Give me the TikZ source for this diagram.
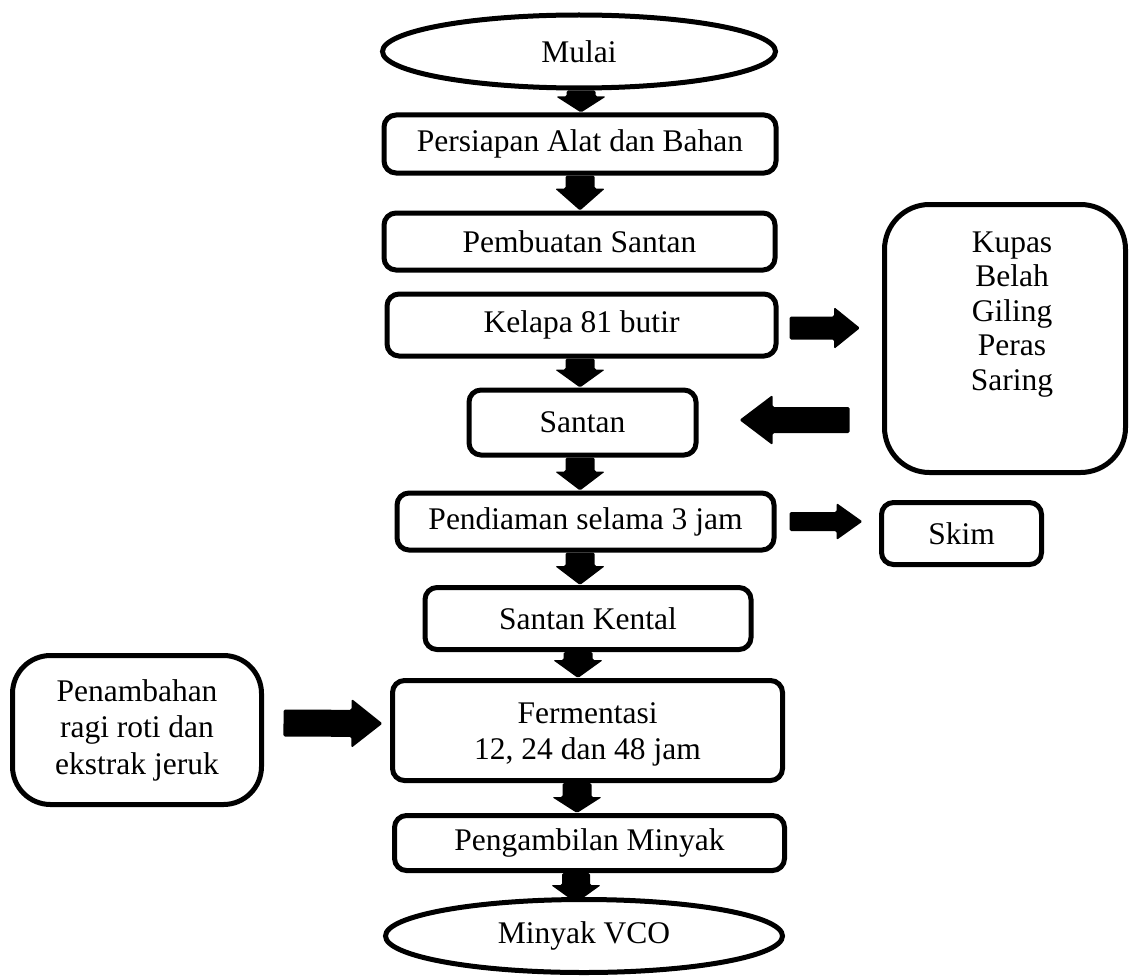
\documentclass[tikz,border=0pt]{standalone}
\usepackage{fontspec}
\setmainfont{Liberation Serif}
\usetikzlibrary{calc,shapes.geometric,backgrounds}
\tikzset{
  box/.style={draw, line width=5pt, rounded corners=12pt, fill=white, inner sep=0pt, align=center, font=\fontsize{31.5}{36.5}\selectfont},
  oval/.style={draw, ellipse, line width=5pt, fill=white, inner sep=0pt, font=\fontsize{31.5}{36.5}\selectfont},
  plain/.style={inner sep=0pt, align=center},
  blk/.style={fill=black, rounded corners=1.5pt},
}
\newcommand{\barrow}[5]{%
  \coordinate (ba-h) at ($(#2)!#5!(#1)$);
  \fill[blk] ($(#1)!#3!90:(#2)$) -- ($(ba-h)!#3!90:(#2)$) -- ($(ba-h)!#4!90:(#2)$) -- (#2) -- ($(ba-h)!#4!-90:(#2)$) -- ($(ba-h)!#3!-90:(#2)$) -- ($(#1)!#3!-90:(#2)$) -- cycle;}
\newcommand{\dnarrow}[4]{%
  \coordinate (da-s) at (#1.south -| #3,0);
  \coordinate (da-e) at (#2.north -| #3,0);
  \barrow{da-s}{da-e}{14.5pt}{25pt}{#4}}
\begin{document}
\begin{tikzpicture}[x=1pt,y=-1pt]
\useasboundingbox (0,0) rectangle (1129,979);
% main column
\node[oval, minimum width=393pt, minimum height=73pt] (start) at (579,51.5) {Mulai};
\node[box, minimum width=392pt, minimum height=58pt] (prep) at (580,144) {Persiapan Alat dan Bahan};
\node[box, minimum width=391pt, minimum height=57pt] (pemb) at (579.5,241.5) {Pembuatan Santan};
\node[box, minimum width=389pt, minimum height=62pt] (kelapa) at (581.5,325) {Kelapa 81 butir};
\node[box, minimum width=227pt, minimum height=65pt] (santan) at (582.5,422.5) {Santan};
\node[box, minimum width=377pt, minimum height=57pt] (pend) at (585.5,521.5) {Pendiaman selama 3 jam};
\node[box, minimum width=326pt, minimum height=62pt] (kental) at (588,618.5) {Santan Kental};
\node[box, minimum width=390pt, minimum height=100pt] (ferm) at (587.5,730.5) {};
\node[plain, font=\fontsize{31.5}{36.5}\selectfont] (fermtxt) at ($(ferm.center)+(0,4)$) {Fermentasi\\12, 24 dan 48 jam};
\node[box, minimum width=390pt, minimum height=55pt] (ambil) at (589.5,843) {Pengambilan Minyak};
\node[oval, minimum width=397pt, minimum height=73pt] (vco) at (584,936) {Minyak VCO};
% side boxes
\node[box, rounded corners=45pt, minimum width=241pt, minimum height=268pt] (kupas) at (1005,338.5) {};
\node[plain, font=\fontsize{31.5}{34.5}\selectfont] (kupastxt) at ($(kupas.center)+(7,-24)$) {Kupas\\Belah\\Giling\\Peras\\Saring};
\node[box, minimum width=160pt, minimum height=62pt] (skim) at (961.5,533.5) {Skim};
\node[box, rounded corners=38pt, minimum width=249pt, minimum height=149pt] (penam) at (137,730) {Penambahan\\ragi roti dan\\ekstrak jeruk};
% arrows
\begin{pgfonlayer}{background}
\dnarrow{start}{prep}{581}{16pt}
\dnarrow{prep}{pemb}{580}{22pt}
\dnarrow{kelapa}{santan}{580}{18pt}
\dnarrow{santan}{pend}{580}{19pt}
\dnarrow{pend}{kental}{580}{19pt}
\dnarrow{kental}{ferm}{578}{18pt}
\dnarrow{ferm}{ambil}{577}{16pt}
\coordinate (e8s) at (ambil.south -| 576,0);
\coordinate (e8e) at ($(vco.north -| 576,0)+(0,6)$);
\barrow{e8s}{e8e}{14pt}{25pt}{18pt}
\coordinate (h1s) at ($(kelapa.east)+(11,3)$);
\coordinate (h1e) at ($(kupas.west |- kelapa.east)+(-22,3)$);
\barrow{h1s}{h1e}{11.5pt}{21pt}{26pt}
\coordinate (h2s) at ($(kupas.west |- santan.east)+(-32.5,-2.5)$);
\coordinate (h2e) at ($(santan.east)+(41,-2.5)$);
\barrow{h2s}{h2e}{13pt}{25pt}{33pt}
\coordinate (h3s) at ($(pend.east)+(13,0)$);
\coordinate (h3e) at ($(skim.west |- pend.east)+(-16.5,0)$);
\barrow{h3s}{h3e}{9.5pt}{18.5pt}{26pt}
\coordinate (h4s) at ($(penam.east)+(19.5,-7)$);
\coordinate (h4e) at ($(ferm.west)+(-7.5,-7)$);
\barrow{h4s}{h4e}{13.5pt}{24.5pt}{31pt}
\end{pgfonlayer}
\end{tikzpicture}
\end{document}
